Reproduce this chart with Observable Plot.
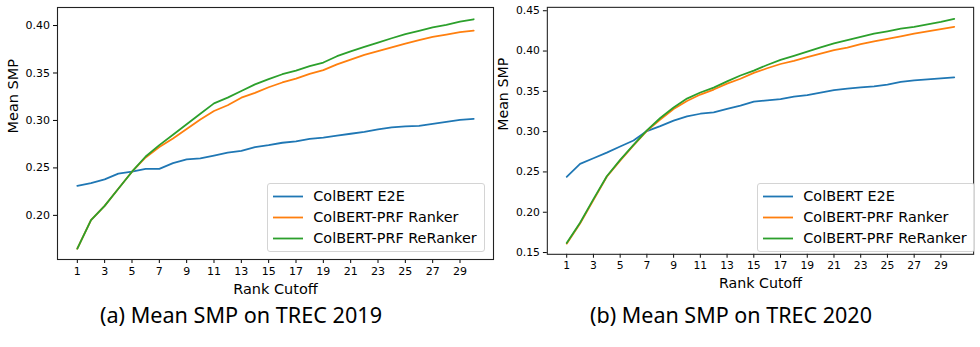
<!DOCTYPE html>
<html>
<head>
<meta charset="utf-8">
<script src="https://cdn.jsdelivr.net/npm/d3@7"></script>
<script src="https://cdn.jsdelivr.net/npm/@observablehq/plot@0.6"></script>
<style>
  html, body { margin: 0; padding: 0; background: #fff; }
  #root { position: relative; width: 980px; height: 347px; overflow: hidden; background: #fff; }
  .panel { position: absolute; top: 0; }
  .legend { position: absolute; box-sizing: border-box; border: 1px solid #d4d4d4; border-radius: 3px; background: rgba(255,255,255,0.85); font-family: "DejaVu Sans", sans-serif; font-size: 14.4px; color: #000; }
  .legend .row { position: absolute; left: 0; height: 21px; width: 100%; }
  .legend .row svg { position: absolute; left: 4px; top: 0; }
  .legend .row span { position: absolute; left: 45.6px; top: 1px; line-height: 19px; white-space: nowrap; }
  .caption { position: absolute; font-family: "Noto Sans", "Open Sans", sans-serif; font-size: 21px; line-height: 24px; white-space: nowrap; color: #000; transform-origin: 0 0; }
</style>
</head>
<body>
<div id="root"></div>
<script>
// ---- data ----
const ranks = [1,2,3,4,5,6,7,8,9,10,11,12,13,14,15,16,17,18,19,20,21,22,23,24,25,26,27,28,29,30];
const xTickLabels = [1,3,5,7,9,11,13,15,17,19,21,23,25,27,29];
const seriesNames = ["ColBERT E2E", "ColBERT-PRF Ranker", "ColBERT-PRF ReRanker"];
const seriesColors = ["#1f77b4", "#ff7f0e", "#2ca02c"];

const e2e2019 = [0.231,0.234,0.238,0.244,0.246,0.249,0.249,0.255,0.259,0.260,0.263,0.266,0.268,0.272,0.274,0.2765,0.278,0.2805,0.282,0.284,0.286,0.288,0.2905,0.2926,0.2937,0.2943,0.2964,0.2985,0.3006,0.3017];
const prfRanker2019 = [0.165,0.195,0.210,0.228,0.246,0.261,0.272,0.281,0.291,0.301,0.310,0.316,0.324,0.329,0.335,0.340,0.344,0.349,0.353,0.359,0.364,0.369,0.373,0.377,0.381,0.3845,0.388,0.3905,0.393,0.3947];
const prfReRanker2019 = [0.165,0.195,0.210,0.228,0.246,0.262,0.274,0.285,0.296,0.307,0.318,0.324,0.331,0.338,0.3435,0.3487,0.3526,0.3572,0.361,0.3677,0.3728,0.3775,0.382,0.3866,0.391,0.3944,0.398,0.4006,0.4042,0.4066];

const e2e2020 = [0.244,0.260,0.267,0.274,0.2816,0.289,0.3007,0.3068,0.3136,0.319,0.3222,0.3238,0.3282,0.3323,0.3372,0.3388,0.3404,0.3433,0.3453,0.3485,0.3514,0.3534,0.355,0.3562,0.3583,0.3616,0.3636,0.3648,0.366,0.3672];
const prfRanker2020 = [0.161,0.186,0.215,0.244,0.264,0.283,0.301,0.315,0.328,0.338,0.346,0.3522,0.3595,0.3656,0.3729,0.3786,0.3839,0.3879,0.3924,0.3969,0.401,0.4042,0.4086,0.4119,0.4152,0.4183,0.4216,0.4245,0.4273,0.4301];
const prfReRanker2020 = [0.1618,0.187,0.2162,0.2446,0.265,0.2836,0.3015,0.3169,0.3299,0.341,0.3485,0.3546,0.3623,0.3696,0.3757,0.3827,0.3891,0.394,0.3993,0.4046,0.4095,0.4135,0.4176,0.4216,0.4245,0.4277,0.4301,0.433,0.4362,0.4399];

const yTicks2019 = [0.20,0.25,0.30,0.35,0.40];
const yTicks2020 = [0.15,0.20,0.25,0.30,0.35,0.40,0.45];
const captions = ["(a) Mean SMP on TREC 2019", "(b) Mean SMP on TREC 2020"];
const xLabel = "Rank Cutoff";
const yLabel = "Mean SMP";

// ---- build ----
function toRows(seriesList) {
  const rows = [];
  seriesList.forEach((vals, i) => {
    vals.forEach((v, j) => rows.push({rank: ranks[j], value: v, name: seriesNames[i]}));
  });
  return rows;
}

function makeChart(seriesList, yDomain, yTicks, marginLeft, yLabelDx) {
  return Plot.plot({
    width: 500,
    height: 300,
    marginTop: 7,
    marginBottom: 41,
    marginLeft,
    marginRight: 7,
    style: {fontFamily: "DejaVu Sans, sans-serif", fontSize: "11px", color: "#000", background: "transparent", overflow: "visible"},
    x: {domain: [-0.45, 31.45]},
    y: {domain: yDomain},
    color: {domain: seriesNames, range: seriesColors},
    marks: [
      Plot.axisY({ticks: yTicks, tickFormat: d3.format(".2f"), tickSize: 4, tickPadding: 3.5, stroke: "#000", label: null}),
      Plot.axisX({ticks: xTickLabels, tickFormat: d => String(d), tickSize: 4, tickPadding: 3.5, stroke: "#000", label: null}),
      Plot.text([xLabel], {text: d => d, frameAnchor: "bottom", dy: 29.5, lineAnchor: "middle", fontSize: 14.5, fill: "#000"}),
      Plot.text([yLabel], {text: d => d, frameAnchor: "left", dx: yLabelDx, rotate: -90, lineAnchor: "middle", fontSize: 14.5, fill: "#000"}),
      Plot.lineY(toRows(seriesList), {x: "rank", y: "value", stroke: "name", z: "name", strokeWidth: 1.8}),
      Plot.frame({stroke: "#222", strokeWidth: 1.1})
    ]
  });
}

const root = document.getElementById("root");

const panels = [
  {left: 0, series: [e2e2019, prfRanker2019, prfReRanker2019], domain: [0.1535, 0.419], ticks: yTicks2019, ml: 57, dx: -44, legendLeft: 266.7, capLeft: 100},
  {left: 490, series: [e2e2020, prfRanker2020, prfReRanker2020], domain: [0.1478, 0.4542], ticks: yTicks2020, ml: 58, dx: -45, legendLeft: 756.7, capLeft: 589.5}
];

panels.forEach((p, k) => {
  const div = document.createElement("div");
  div.className = "panel";
  div.style.left = p.left + "px";
  div.appendChild(makeChart(p.series, p.domain, p.ticks, p.ml, p.dx));
  root.appendChild(div);

  // legend
  const lg = document.createElement("div");
  lg.className = "legend";
  lg.style.left = p.legendLeft + "px";
  lg.style.top = "182.7px";
  lg.style.width = "218.5px";
  lg.style.height = "69px";
  seriesNames.forEach((name, i) => {
    const row = document.createElement("div");
    row.className = "row";
    row.style.top = (2.3 + 21 * i) + "px";
    row.innerHTML = `<svg width="32" height="21"><line x1="1" x2="31" y1="10.5" y2="10.5" stroke="${seriesColors[i]}" stroke-width="1.8"/></svg><span>${name}</span>`;
    lg.appendChild(row);
  });
  root.appendChild(lg);

  // caption
  const cap = document.createElement("div");
  cap.className = "caption";
  cap.textContent = captions[k];
  cap.style.left = p.capLeft + "px";
  cap.style.top = "303px";
  root.appendChild(cap);
  const w = cap.getBoundingClientRect().width;
  cap.style.transform = `scaleX(${282 / w})`;
});
</script>
</body>
</html>
